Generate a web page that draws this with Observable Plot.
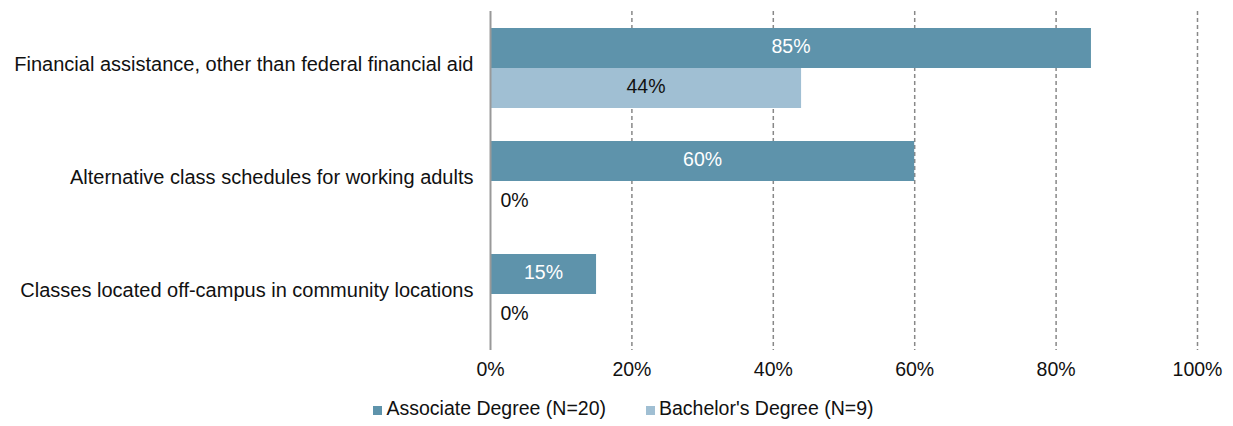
<!DOCTYPE html>
<html>
<head>
<meta charset="utf-8">
<script src="https://cdn.jsdelivr.net/npm/d3@7"></script>
<script src="https://cdn.jsdelivr.net/npm/@observablehq/plot@0.6"></script>
<style>
  html, body { margin: 0; padding: 0; background: #fff; }
  body { width: 1233px; height: 426px; overflow: hidden; font-family: "Liberation Sans", Arial, sans-serif; }
  #legend { position: absolute; top: 397px; left: 0; width: 1233px; display: flex; justify-content: center; gap: 40px; font-size: 19.5px; color: #111; padding-left: 14px; box-sizing: border-box; }
  #legend .item { display: flex; align-items: center; }
  #legend .sw { width: 9px; height: 9px; display: inline-block; margin-right: 4px; margin-top: 4px; }
</style>
</head>
<body>
<div id="chart"></div>
<div id="legend"></div>
<script>
const categories = [
  "Financial assistance, other than federal financial aid",
  "Alternative class schedules for working adults",
  "Classes located off-campus in community locations"
];
const seriesNames = ["Associate Degree (N=20)", "Bachelor's Degree (N=9)"];
const associateValues = [85, 60, 15];
const bachelorValues = [44, 0, 0];
const xTicks = [0, 20, 40, 60, 80, 100];
const colors = ["#5e93ab", "#a0bfd3"];
const labelColors = ["#ffffff", "#111111"];

const rows = [];
categories.forEach((c, i) => {
  rows.push({category: c, series: seriesNames[0], value: associateValues[i]});
  rows.push({category: c, series: seriesNames[1], value: bachelorValues[i]});
});

const chart = Plot.plot({
  width: 1233,
  height: 390,
  marginLeft: 490,
  marginRight: 36,
  marginTop: 10,
  marginBottom: 40,
  style: {fontFamily: "'Liberation Sans', Arial, sans-serif", fontSize: "19.5px", color: "#111"},
  x: {domain: [0, 100], ticks: xTicks, tickFormat: d => d + "%", tickSize: 0, tickPadding: 12, label: null},
  fy: {domain: categories, padding: 0, label: null},
  y: {domain: seriesNames, paddingInner: 0, paddingOuter: 0.39, axis: null},
  color: {domain: seriesNames, range: colors},
  marks: [
    Plot.axisFy({anchor: "left", tickSize: 0, tickPadding: 17, fontSize: 20, dy: -3, label: null}),
    Plot.ruleX(xTicks.filter(d => d > 0), {stroke: "#888", strokeWidth: 1.5, strokeDasharray: "4,3", facetAnchor: null, fy: null}),
    Plot.barX(rows, {fy: "category", y: "series", x: "value", fill: "series"}),
    Plot.text(rows.filter(d => d.value > 0), {
      fy: "category", y: "series", x: d => d.value / 2,
      text: d => d.value + "%",
      fill: d => labelColors[seriesNames.indexOf(d.series)],
      fontSize: 19.5, dy: -2
    }),
    Plot.text(rows.filter(d => d.value === 0), {
      fy: "category", y: "series", x: "value",
      text: d => d.value + "%", textAnchor: "start", dx: 10, dy: -1,
      fill: "#111", fontSize: 19.5
    }),
    Plot.ruleX([0], {stroke: "#999", strokeWidth: 2, facetAnchor: null})
  ]
});
document.getElementById("chart").appendChild(chart);

const legend = document.getElementById("legend");
seriesNames.forEach((s, i) => {
  const item = document.createElement("div");
  item.className = "item";
  const sw = document.createElement("span");
  sw.className = "sw";
  sw.style.background = colors[i];
  const t = document.createElement("span");
  t.textContent = s;
  item.appendChild(sw);
  item.appendChild(t);
  legend.appendChild(item);
});
</script>
</body>
</html>
